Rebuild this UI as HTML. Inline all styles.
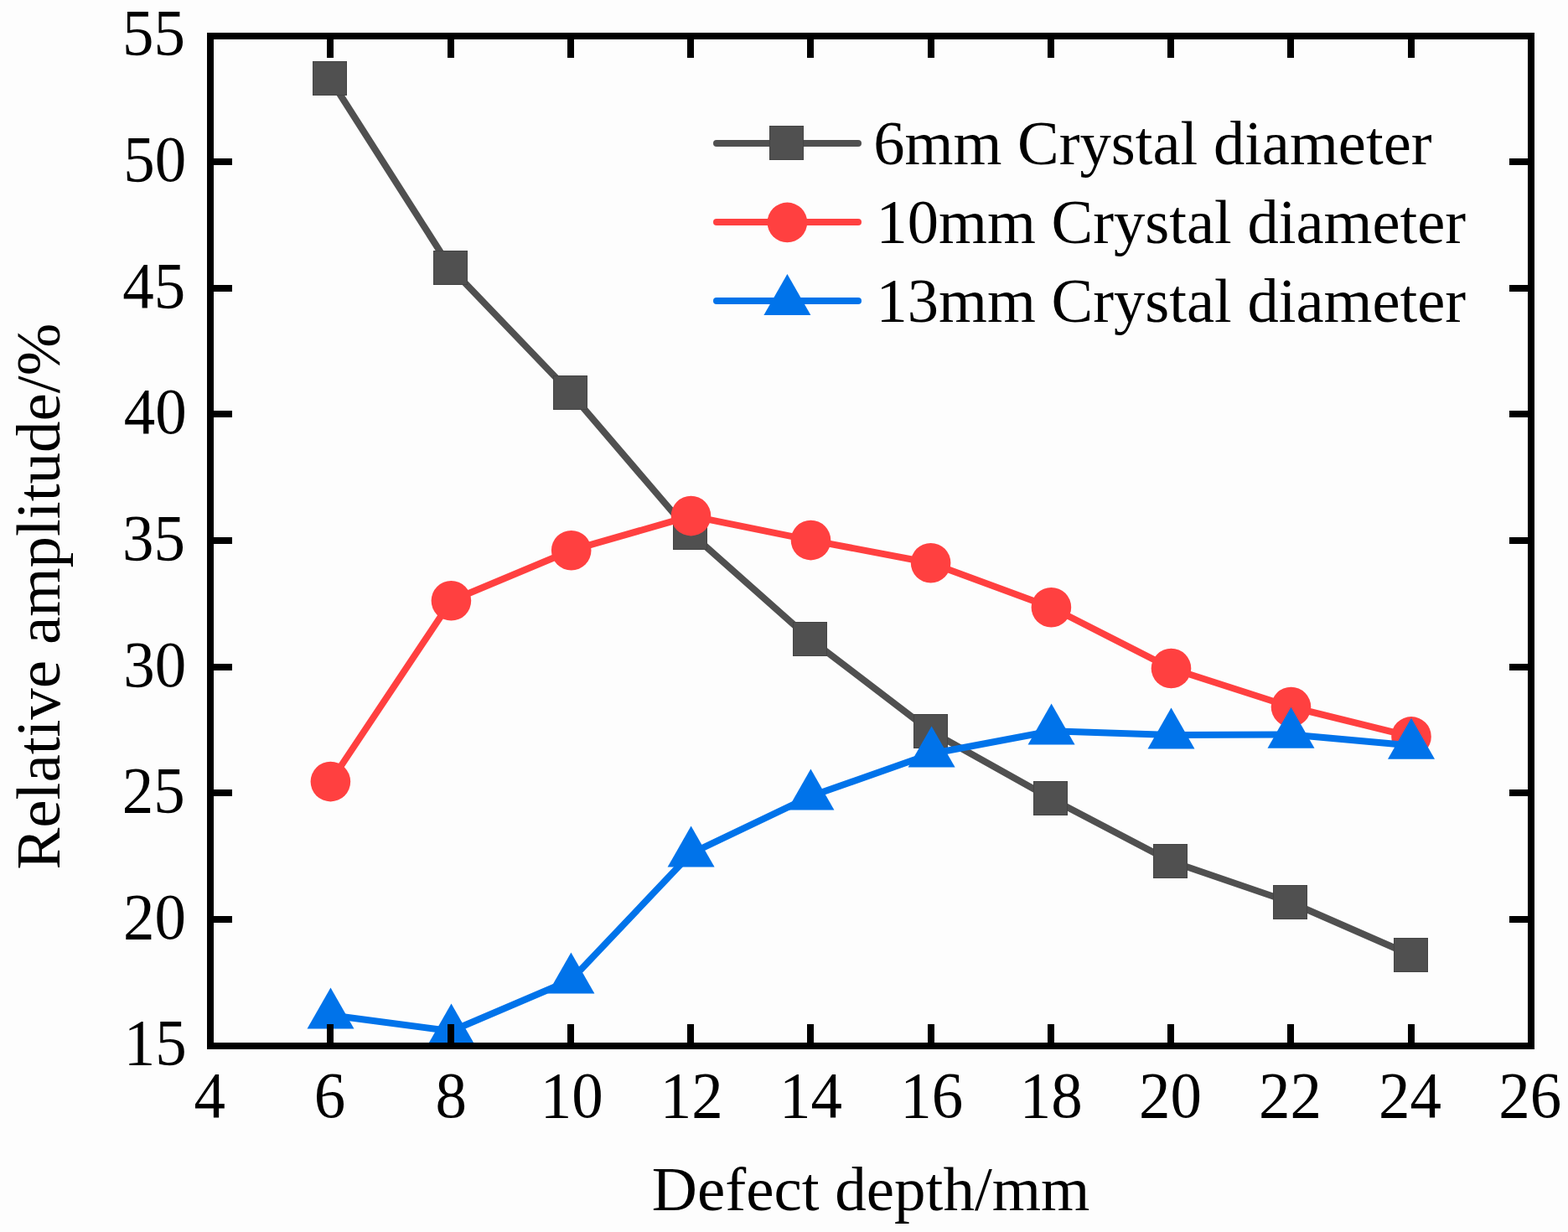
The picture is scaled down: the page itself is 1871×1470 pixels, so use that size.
<!DOCTYPE html>
<html><head><meta charset="utf-8"><title>Relative amplitude vs defect depth</title>
<style>html,body{margin:0;padding:0;background:#fdfdfd;} svg{display:block;}</style>
</head><body>
<svg width="1871" height="1470" viewBox="0 0 1871 1470"><rect x="0" y="0" width="1871" height="1470" fill="#fdfdfd"/>
<polyline points="393.5,93.5 537.5,319.5 680.5,468.5 823.5,635.5 966.5,762.5 1110.5,872.5 1253.5,952.5 1396.5,1027.5 1539.5,1076.5 1683.5,1139.5" fill="none" stroke="#505050" stroke-width="8" stroke-linejoin="round"/>
<rect x="373.5" y="73.5" width="40" height="40" fill="#505050" stroke="#444444" stroke-width="1"/>
<rect x="517.5" y="299.5" width="40" height="40" fill="#505050" stroke="#444444" stroke-width="1"/>
<rect x="660.5" y="448.5" width="40" height="40" fill="#505050" stroke="#444444" stroke-width="1"/>
<rect x="803.5" y="615.5" width="40" height="40" fill="#505050" stroke="#444444" stroke-width="1"/>
<rect x="946.5" y="742.5" width="40" height="40" fill="#505050" stroke="#444444" stroke-width="1"/>
<rect x="1090.5" y="852.5" width="40" height="40" fill="#505050" stroke="#444444" stroke-width="1"/>
<rect x="1233.5" y="932.5" width="40" height="40" fill="#505050" stroke="#444444" stroke-width="1"/>
<rect x="1376.5" y="1007.5" width="40" height="40" fill="#505050" stroke="#444444" stroke-width="1"/>
<rect x="1519.5" y="1056.5" width="40" height="40" fill="#505050" stroke="#444444" stroke-width="1"/>
<rect x="1663.5" y="1119.5" width="40" height="40" fill="#505050" stroke="#444444" stroke-width="1"/>
<polyline points="394.4,932.6 538.4,716.8 681.7,656.7 824.5,615.6 967.5,644.6 1110.6,671.7 1254.4,724.7 1397.5,797.5 1540.5,843.5 1684.0,878.9" fill="none" stroke="#FF4040" stroke-width="8" stroke-linejoin="round"/>
<circle cx="394.4" cy="932.6" r="23.8" fill="#FF4040"/>
<circle cx="538.4" cy="716.8" r="23.8" fill="#FF4040"/>
<circle cx="681.7" cy="656.7" r="23.8" fill="#FF4040"/>
<circle cx="824.5" cy="615.6" r="23.8" fill="#FF4040"/>
<circle cx="967.5" cy="644.6" r="23.8" fill="#FF4040"/>
<circle cx="1110.6" cy="671.7" r="23.8" fill="#FF4040"/>
<circle cx="1254.4" cy="724.7" r="23.8" fill="#FF4040"/>
<circle cx="1397.5" cy="797.5" r="23.8" fill="#FF4040"/>
<circle cx="1540.5" cy="843.5" r="23.8" fill="#FF4040"/>
<circle cx="1684.0" cy="878.9" r="23.8" fill="#FF4040"/>
<polyline points="394.5,1211.2 538.5,1230.3 681.4,1169.3 824.6,1018.3 967.4,950.1 1111.6,899.2 1254.6,872.3 1397.5,877.1 1540.5,876.4 1684.0,889.5" fill="none" stroke="#0073EA" stroke-width="8" stroke-linejoin="round"/>
<polygon points="394.5,1178.5 422.5,1227.5 366.5,1227.5" fill="#0073EA"/>
<polygon points="538.5,1197.6 566.5,1246.6 510.5,1246.6" fill="#0073EA"/>
<polygon points="681.4,1136.6 709.4,1185.6 653.4,1185.6" fill="#0073EA"/>
<polygon points="824.6,985.6 852.6,1034.6 796.6,1034.6" fill="#0073EA"/>
<polygon points="967.4,917.4 995.4,966.4 939.4,966.4" fill="#0073EA"/>
<polygon points="1111.6,866.5 1139.6,915.5 1083.6,915.5" fill="#0073EA"/>
<polygon points="1254.6,839.6 1282.6,888.6 1226.6,888.6" fill="#0073EA"/>
<polygon points="1397.5,844.4 1425.5,893.4 1369.5,893.4" fill="#0073EA"/>
<polygon points="1540.5,843.7 1568.5,892.7 1512.5,892.7" fill="#0073EA"/>
<polygon points="1684.0,856.8 1712.0,905.8 1656.0,905.8" fill="#0073EA"/>
<rect x="251" y="43" width="1576" height="1205" fill="none" stroke="#000" stroke-width="8"/>
<path d="M394 1244V1222M394 47V69M538 1244V1222M538 47V69M681 1244V1222M681 47V69M824 1244V1222M824 47V69M967 1244V1222M967 47V69M1111 1244V1222M1111 47V69M1254 1244V1222M1254 47V69M1397 1244V1222M1397 47V69M1540 1244V1222M1540 47V69M1684 1244V1222M1684 47V69M255 1097H277M1823 1097H1801M255 946H277M1823 946H1801M255 796H277M1823 796H1801M255 645H277M1823 645H1801M255 494H277M1823 494H1801M255 344H277M1823 344H1801M255 193H277M1823 193H1801" stroke="#000" stroke-width="8" fill="none"/>
<g font-family="Liberation Serif, Times New Roman, serif" font-size="75" fill="#000"><text transform="translate(185.3 1270.4) scale(1 1.035)" text-anchor="middle">15</text><text transform="translate(184.4 1119.8) scale(1 1.035)" text-anchor="middle">20</text><text transform="translate(183.3 969.1) scale(1 1.035)" text-anchor="middle">25</text><text transform="translate(184.7 818.5) scale(1 1.035)" text-anchor="middle">30</text><text transform="translate(183.5 667.9) scale(1 1.035)" text-anchor="middle">35</text><text transform="translate(185.2 517.3) scale(1 1.035)" text-anchor="middle">40</text><text transform="translate(183.7 366.6) scale(1 1.035)" text-anchor="middle">45</text><text transform="translate(184.7 216.0) scale(1 1.035)" text-anchor="middle">50</text><text transform="translate(183.4 65.4) scale(1 1.035)" text-anchor="middle">55</text><text transform="translate(250.3 1332.7) scale(1 1.035)" text-anchor="middle">4</text><text transform="translate(393.4 1332.7) scale(1 1.035)" text-anchor="middle">6</text><text transform="translate(538.2 1332.7) scale(1 1.035)" text-anchor="middle">8</text><text transform="translate(682.2 1332.7) scale(1 1.035)" text-anchor="middle">10</text><text transform="translate(825.3 1332.7) scale(1 1.035)" text-anchor="middle">12</text><text transform="translate(967.6 1332.7) scale(1 1.035)" text-anchor="middle">14</text><text transform="translate(1111.8 1332.7) scale(1 1.035)" text-anchor="middle">16</text><text transform="translate(1254.2 1332.7) scale(1 1.035)" text-anchor="middle">18</text><text transform="translate(1396.5 1332.7) scale(1 1.035)" text-anchor="middle">20</text><text transform="translate(1539.5 1332.7) scale(1 1.035)" text-anchor="middle">22</text><text transform="translate(1682.5 1332.7) scale(1 1.035)" text-anchor="middle">24</text><text transform="translate(1825.8 1332.7) scale(1 1.035)" text-anchor="middle">26</text><text x="1039.1" y="1443.8" text-anchor="middle">Defect depth/mm</text><text transform="translate(71 711.8) rotate(-90)" text-anchor="middle">Relative amplitude/%</text><text x="1042.3" y="196.3" font-size="74.5">6mm Crystal diameter</text><text x="1045.6" y="289.9" font-size="74.5">10mm Crystal diameter</text><text x="1045.6" y="383.7" font-size="74.5">13mm Crystal diameter</text></g>
<path d="M855 171H1024" stroke="#505050" stroke-width="8" stroke-linecap="round"/>
<rect x="918.5" y="150.5" width="40" height="40" fill="#505050" stroke="#444444" stroke-width="1"/>
<path d="M855 265H1024" stroke="#FF4040" stroke-width="8" stroke-linecap="round"/>
<circle cx="939.4" cy="265.4" r="23.8" fill="#FF4040"/>
<path d="M855 359H1024" stroke="#0073EA" stroke-width="8" stroke-linecap="round"/>
<polygon points="939.4,327.1 967.4,376.1 911.4,376.1" fill="#0073EA"/></svg>
</body></html>
